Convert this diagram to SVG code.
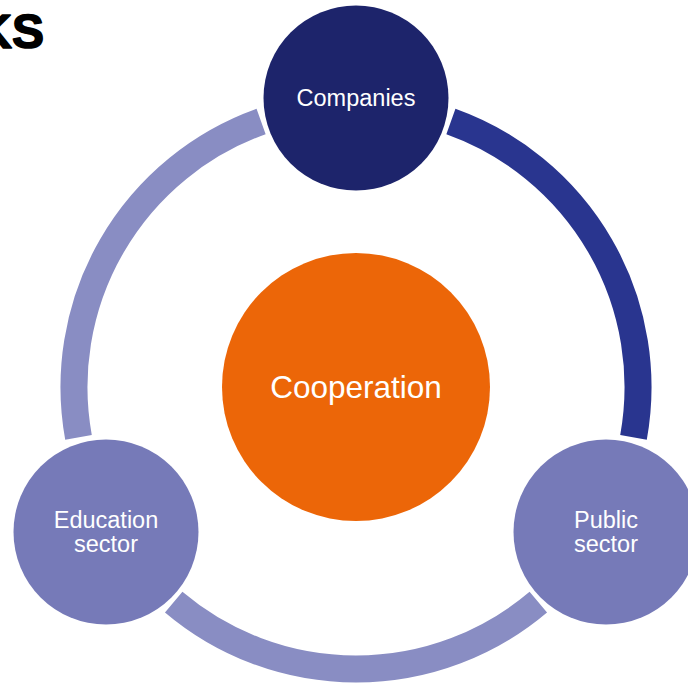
<svg xmlns="http://www.w3.org/2000/svg" width="688" height="687" viewBox="0 0 688 687">
<style>
.arc{fill:none;stroke-width:27;stroke-linecap:butt}
.lbl{font-family:"Liberation Sans",Arial,sans-serif;fill:#fff;text-anchor:middle}
</style>
<rect width="688" height="687" fill="#fff"/>
<text x="44" y="48" font-family="Liberation Sans,Arial,sans-serif" font-weight="bold" font-size="48" text-anchor="end" fill="#000" stroke="#000" stroke-width="1.6" stroke-linejoin="round">KS</text>
<g id="connectors">
<path class="arc" stroke="#29358F" d="M 450.9 121.5 A 282 282 0 0 1 633.5 437.4"/>
<path class="arc" stroke="#898DC3" d="M 538.3 602.1 A 282 282 0 0 1 173.7 602.1"/>
<path class="arc" stroke="#898DC3" d="M 78.5 437.4 A 282 282 0 0 1 261.1 121.5"/>
</g>
<g id="cooperation">
<circle cx="356" cy="387" r="134" fill="#EC6608"/>
<text class="lbl" x="356" y="398" font-size="31.5">Cooperation</text>
</g>
<g id="companies">
<circle cx="356" cy="98" r="92.5" fill="#1D246B"/>
<text class="lbl" x="356" y="106" font-size="23.5">Companies</text>
</g>
<g id="education">
<circle cx="106" cy="532" r="92.5" fill="#767AB8"/>
<text class="lbl" x="106" y="528" font-size="23.5">Education</text>
<text class="lbl" x="106" y="552" font-size="23.5">sector</text>
</g>
<g id="public">
<circle cx="606" cy="532" r="92.5" fill="#767AB8"/>
<text class="lbl" x="606" y="528" font-size="23.5">Public</text>
<text class="lbl" x="606" y="552" font-size="23.5">sector</text>
</g>
</svg>
